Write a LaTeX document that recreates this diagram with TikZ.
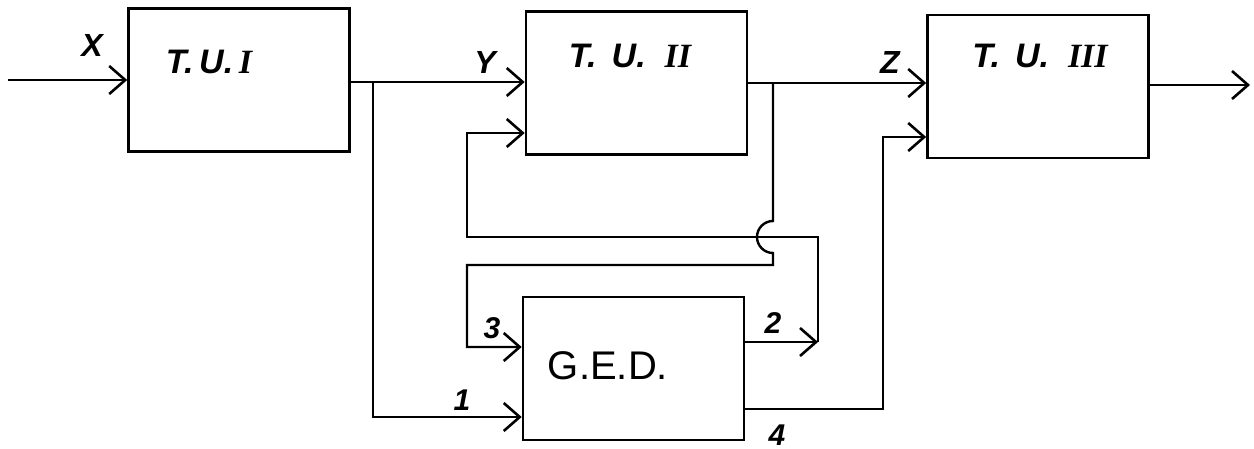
\documentclass[tikz,border=0pt]{standalone}
\usepackage{fontspec}
\setmainfont{Liberation Sans}
\newfontfamily\romfont{Liberation Serif}
\usetikzlibrary{arrows.meta}
\begin{document}
\begin{tikzpicture}[x=0.5pt,y=-0.5pt,
  line width=1.2pt,
  unit/.style={draw,line width=1.3pt,minimum width=110.5pt,minimum height=71.5pt,inner sep=0pt},
  title/.style={font=\fontsize{17}{17}\selectfont\bfseries\itshape,inner sep=0pt},
  sig/.style={font=\fontsize{16}{16}\selectfont\bfseries\itshape,inner sep=0pt},
  num/.style={font=\fontsize{15}{15}\selectfont\bfseries\itshape,inner sep=0pt},
  flow/.style={-{Straight Barb[length=8pt,width=14pt,line width=1.3pt]}}]
\useasboundingbox (0,0) rectangle (1254,449);

% blocks
\node[unit] (b1) at (239,80) {};
\node[unit] (b2) at (636.5,83) {};
\node[unit] (b3) at (1038,86.5) {};
\node[unit] (ged) at (633.5,368.5) {};

% block titles
\node[title] (t1) at (209,62) {T.\,U.\,{\romfont I}};
\node[title] (t2) at (630,56) {T.\ \,U.\ \ {\romfont II}};
\node[title] (t3) at (1040,56) {T.\ \,U.\ \ {\romfont III}};
\node[font=\fontsize{20}{20}\selectfont,inner sep=0pt] (tg) at (608,366) {G.E.D.};

% signal and port labels
\node[sig] (lx) at (92,45) {X};
\node[sig] (ly) at (485,62) {Y};
\node[sig] (lz) at (890,62) {Z};
\node[num] (l1) at (462,400) {1};
\node[num] (l3) at (492,328) {3};
\node[num] (l2) at (773,323) {2};
\node[num] (l4) at (777,435) {4};

% junction and corner points
\coordinate (in) at (8,80);
\coordinate (out) at (1250,85);
\coordinate (j1) at (373,82);
\coordinate (c1) at (373,417);
\coordinate (j2) at (773,83);
\coordinate (h1) at (773,221);
\coordinate (c2) at (773,265);
\coordinate (c3) at (467,265);
\coordinate (c4) at (467,347);
\coordinate (p2) at (818,342);
\coordinate (c5) at (818,237);
\coordinate (c6) at (467,237);
\coordinate (c7) at (467,133);
\coordinate (p4) at (883,409);
\coordinate (c8) at (883,137);

% main chain
\draw[flow] (in) -- (b1.west |- in);
\draw (b1.east |- j1) -- (j1);
\draw[flow] (j1) -- (j1 -| b2.west);
\draw (b2.east |- j2) -- (j2);
\draw[flow] (j2) -- (j2 -| b3.west);
\draw[flow] (b3.east |- out) -- (out);

% input 1 of the generator
\draw[flow] (j1) -- (c1) -- (c1 -| ged.west);

% input 3 of the generator, hopping over the feedback line
\draw[flow] (j2) -- (h1) arc[start angle=90,end angle=270,radius=8pt]
  -- (c2) -- (c3) -- (c4) -- (c4 -| ged.west);

% output 2 fed back to T.U. II
\draw[flow] (ged.east |- p2) -- (p2);
\draw[flow] (p2) -- (c5) -- (c6) -- (c7) -- (c7 -| b2.west);

% output 4 to T.U. III
\draw[flow] (ged.east |- p4) -- (p4) -- (c8) -- (c8 -| b3.west);
\end{tikzpicture}
\end{document}
